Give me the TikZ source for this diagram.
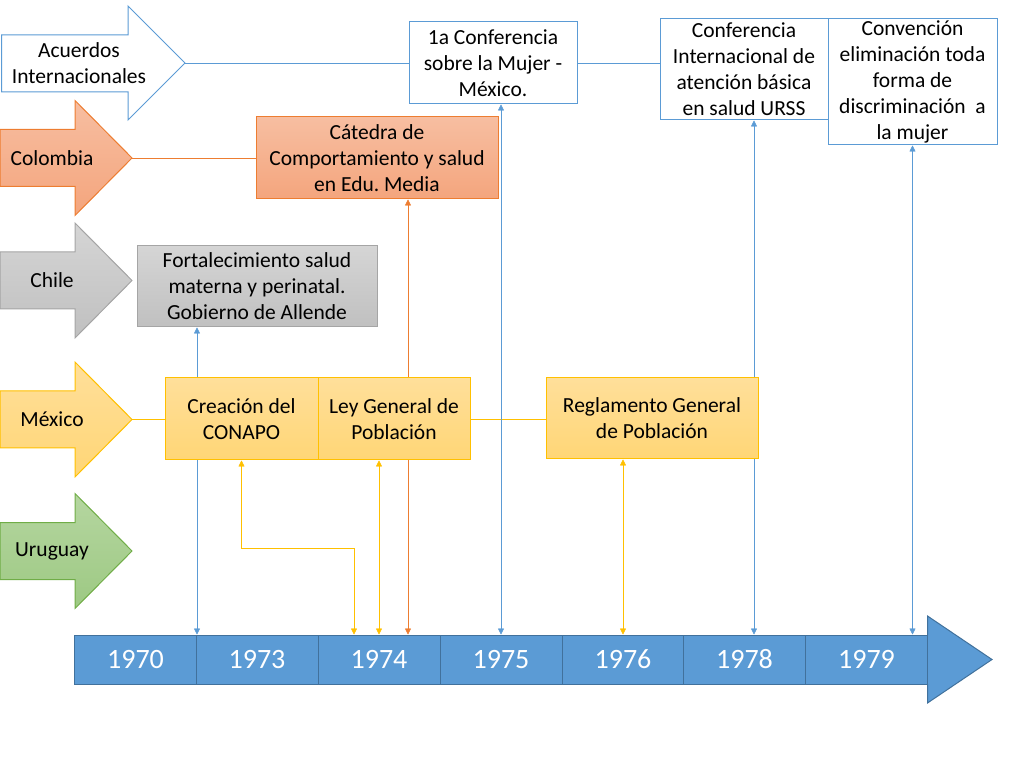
\documentclass[tikz,border=0pt]{standalone}
\usepackage{fontspec}
\setmainfont{Carlito}
\frenchspacing
\usetikzlibrary{arrows.meta,backgrounds}
\definecolor{accblue}{HTML}{5B9BD5}
\definecolor{tldark}{HTML}{41719C}
\definecolor{colline}{HTML}{ED7D31}
\definecolor{coltop}{HTML}{F7BEA1}
\definecolor{colbot}{HTML}{F4A57D}
\definecolor{chlline}{HTML}{A5A5A5}
\definecolor{chltop}{HTML}{D5D5D5}
\definecolor{chlbot}{HTML}{C0C0C0}
\definecolor{mexline}{HTML}{FFC000}
\definecolor{mextop}{HTML}{FFDF9A}
\definecolor{mexbot}{HTML}{FFD676}
\definecolor{uruline}{HTML}{70AD47}
\definecolor{urutop}{HTML}{B5D6A0}
\definecolor{urubot}{HTML}{9DC983}
\tikzset{
  txt/.style={font=\fontsize{21.5}{26}\selectfont, align=center, inner sep=0pt},
  box/.style={txt, draw},
  intbox/.style={box, draw=accblue, fill=white},
  colbox/.style={box, draw=colline, top color=coltop, bottom color=colbot},
  chlbox/.style={box, draw=chlline, top color=chltop, bottom color=chlbot},
  mexbox/.style={box, draw=mexline, top color=mextop, bottom color=mexbot},
  colarrow/.style={draw=colline, top color=coltop, bottom color=colbot},
  chlarrow/.style={draw=chlline, top color=chltop, bottom color=chlbot},
  mexarrow/.style={draw=mexline, top color=mextop, bottom color=mexbot},
  uruarrow/.style={draw=uruline, top color=urutop, bottom color=urubot},
  year/.style={draw=tldark, fill=accblue, text=white, minimum width=122pt, minimum height=49pt,
    inner sep=0pt, font=\fontsize{28}{34}\selectfont},
  con/.style={{Triangle[width=6pt,length=6pt]}-{Triangle[width=6pt,length=6pt]}},
}
\begin{document}
\begin{tikzpicture}[x=1pt,y=-1pt,line width=1pt]
  \useasboundingbox (0,0) rectangle (1021,767);
  % lane arrows
  \draw[draw=accblue, fill=white] (1.5,35) -- (128,35) -- (128,6) -- (185,63) -- (128,120) -- (128,92) -- (1.5,92) -- cycle;
  \coordinate (acutip) at (185,63);
  \node[txt] (acuerdos) at (79,63) {Acuerdos\\Internacionales};
  \foreach \y/\s in {158/colarrow,280.5/chlarrow,419.5/mexarrow,551/uruarrow}
    \draw[\s] (0,\y-28.5) -- (75,\y-28.5) -- (75,\y-57.5) -- (132,\y) -- (75,\y+57.5) -- (75,\y+28.5) -- (0,\y+28.5) -- cycle;
  \coordinate (coltip) at (132,158);
  \coordinate (mextip) at (132,419.5);
  \node[txt] (colombia) at (52,158) {Colombia};
  \node[txt] (chile) at (52,280.5) {Chile};
  \node[txt] (mexico) at (52,419.5) {México};
  \node[txt] (uruguay) at (52,551) {Uruguay};

  % events
  \node[intbox, minimum width=168pt, minimum height=82pt] (conf1) at (493,63) {1a Conferencia\\sobre la Mujer -\\México.};
  \node[intbox, minimum width=168pt, minimum height=101pt] (confint) at (744,69.5) {Conferencia\\Internacional de\\atención básica\\en salud URSS};
  \node[intbox, minimum width=169pt, minimum height=126pt] (convencion) at (912.5,82) {Convención\\eliminación toda\\forma de\\discriminación\ \ a\\la mujer};
  \node[colbox, minimum width=242pt, minimum height=82pt] (catedra) at (377,158) {Cátedra de\\Comportamiento y salud\\en Edu. Media};
  \node[chlbox, minimum width=240pt, minimum height=81pt] (allende) at (257,286.5) {Fortalecimiento salud\\materna y perinatal.\\Gobierno de Allende};
  \node[mexbox, minimum width=153pt, minimum height=82pt] (conapo) at (241.5,419) {Creación del\\CONAPO};
  \node[mexbox, minimum width=152pt, minimum height=82pt] (ley) at (394,419) {Ley General de\\Población};
  \node[mexbox, minimum width=212pt, minimum height=81pt] (reglamento) at (652,418.5) {Reglamento General\\de Población};

  % timeline
  \draw[draw=tldark, fill=accblue] (927.5,635) -- (927.5,616) -- (992,659.5) -- (927.5,703) -- (927.5,684);
  \foreach \yr/\x in {1970/135.5,1973/257,1974/379,1975/501,1976/623,1978/744.5,1979/866.5}
    \node[year] (y\yr) at (\x,659.5) {\yr};

  \begin{pgfonlayer}{background}
    \draw[accblue] (acutip) -- (confint.west |- acutip);
    \draw[colline] (coltip) -- (catedra.west |- coltip);
    \draw[mexline] (mextip) -- (reglamento.west |- mextip);
    \draw[con, accblue] (allende.south -| y1970.north east) -- (y1970.north east);
    \draw[con, colline] ([xshift=31pt]catedra.south) -- ([xshift=31pt]catedra.south |- y1974.north);
    \draw[con, accblue] (conf1.south -| y1975.north) -- (y1975.north);
    \draw[con, accblue] ([xshift=10pt]confint.south) -- ([xshift=10pt]confint.south |- y1978.north);
    \draw[con, accblue] (convencion.south) -- (convencion.south |- y1979.north);
    \draw[con, mexline] (conapo.south) -- ++(0,88) -| ([xshift=-25pt]y1974.north);
    \draw[con, mexline] (ley.south -| y1974.north) -- (y1974.north);
    \draw[con, mexline] (reglamento.south -| y1976.north) -- (y1976.north);
  \end{pgfonlayer}
\end{tikzpicture}
\end{document}
